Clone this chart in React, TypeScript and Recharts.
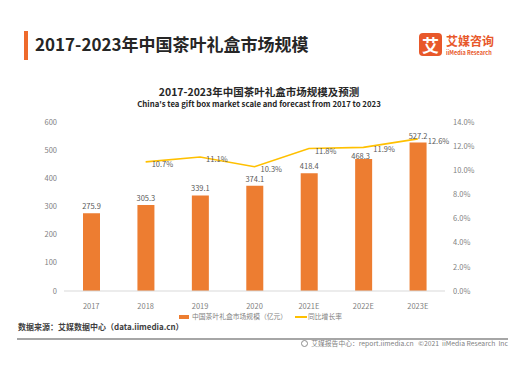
import React from "react";
import { ComposedChart, Bar, Line, XAxis, YAxis, LabelList } from "recharts";

const years = ["2017", "2018", "2019", "2020", "2021E", "2022E", "2023E"];
const marketSize = [275.9, 305.3, 339.1, 374.1, 418.4, 468.3, 527.2];
const growthRate = [null, 10.7, 11.1, 10.3, 11.8, 11.9, 12.6];
const leftTicks = [0, 100, 200, 300, 400, 500, 600];
const rightTicks = [0, 2, 4, 6, 8, 10, 12, 14];

const FONT = '"Noto Sans CJK SC", "Noto Sans", sans-serif';
const ORANGE = "#ED7D31";
const YELLOW = "#FFC000";

const data = years.map((y, i) => ({ year: y, size: marketSize[i], rate: growthRate[i] }));

// growth labels sit right of the point; the last two are pushed out a bit further
function RateLabel(props: any) {
  const { x, y, value, index } = props;
  if (value == null) return null;
  const dx = index >= 5 ? 10 : 6;
  return (
    <text x={x + dx} y={y + 3} fontSize={7.5} fill="#595959" fontFamily={FONT} dominantBaseline="middle">
      {value.toFixed(1)}%
    </text>
  );
}

// bar value labels above each bar; 2022E is nudged away from the rate label like in the source
function SizeLabel(props: any) {
  const { x, y, width, value, index } = props;
  const nudge = index === 5;
  return (
    <text
      x={x + width / 2 + (nudge ? -3 : 0)}
      y={y - 4 + (nudge ? 4 : 0)}
      fontSize={7.5}
      fill="#595959"
      fontFamily={FONT}
      textAnchor="middle"
    >
      {value}
    </text>
  );
}

function App() {
  return (
    <div style={{ position: "absolute", left: 0, top: 0, width: 530, height: 376, background: "#fff", fontFamily: FONT, overflow: "hidden" }}>
      <div style={{ position: "absolute", left: 24, top: 31, width: 4, height: 29, background: "#EE6A2C" }} />
      <div style={{ position: "absolute", left: 35, top: 32, fontSize: 17, fontWeight: 700, color: "#262626", lineHeight: "24px", whiteSpace: "nowrap" }}>
        2017-2023年中国茶叶礼盒市场规模
      </div>
      <div style={{ position: "absolute", left: 419, top: 33, width: 23, height: 23, borderRadius: 4, background: "#E8582A", color: "#fff", fontSize: 17, fontWeight: 700, lineHeight: "23px", textAlign: "center" }}>
        艾
      </div>
      <div style={{ position: "absolute", left: 446, top: 35, fontSize: 12, fontWeight: 700, color: "#E8582A", lineHeight: "12px", whiteSpace: "nowrap" }}>
        艾媒咨询
      </div>
      <div style={{ position: "absolute", left: 446, top: 49.5, fontSize: 5.5, fontWeight: 600, color: "#E8582A", lineHeight: "6px", whiteSpace: "nowrap" }}>
        iiMedia Research
      </div>

      <div style={{ position: "absolute", left: 0, width: 518, top: 85, textAlign: "center", fontSize: 10.5, fontWeight: 700, color: "#262626", lineHeight: "14px" }}>
        2017-2023年中国茶叶礼盒市场规模及预测
      </div>
      <div style={{ position: "absolute", left: 0, width: 518, top: 98, textAlign: "center", fontSize: 7.8, fontWeight: 600, color: "#262626", lineHeight: "11px" }}>
        China's tea gift box market scale and forecast from 2017 to 2023
      </div>

      <ComposedChart width={530} height={376} data={data} margin={{ top: 122, right: 35, bottom: 65, left: 14 }} style={{ position: "absolute", left: 0, top: 0 }}>
        <XAxis
          dataKey="year"
          height={20}
          tickLine={false}
          axisLine={{ stroke: "#d9d9d9" }}
          tick={{ fontSize: 7.5, fill: "#7f7f7f", fontFamily: FONT }}
          tickMargin={7}
          interval={0}
        />
        <YAxis
          yAxisId="left"
          width={50}
          domain={[0, 600]}
          ticks={leftTicks}
          axisLine={false}
          tickLine={false}
          tickSize={0}
          tickMargin={7}
          tick={{ fontSize: 7.5, fill: "#7f7f7f", fontFamily: FONT }}
        />
        <YAxis
          yAxisId="right"
          orientation="right"
          width={50}
          domain={[0, 14]}
          ticks={rightTicks}
          axisLine={false}
          tickLine={false}
          tickSize={0}
          tickMargin={8}
          tickFormatter={(v: number) => v.toFixed(1) + "%"}
          tick={{ fontSize: 7.5, fill: "#7f7f7f", fontFamily: FONT, textAnchor: "start" }}
        />
        <Bar yAxisId="left" dataKey="size" fill={ORANGE} barSize={17} isAnimationActive={false}>
          <LabelList dataKey="size" content={SizeLabel} />
        </Bar>
        <Line yAxisId="right" dataKey="rate" stroke={YELLOW} strokeWidth={1.6} dot={false} isAnimationActive={false}>
          <LabelList dataKey="rate" content={RateLabel} />
        </Line>
      </ComposedChart>

      <div style={{ position: "absolute", left: 179, top: 315, width: 10, height: 4, background: ORANGE }} />
      <div style={{ position: "absolute", left: 192, top: 311, fontSize: 6.8, color: "#7f7f7f", lineHeight: "11px", whiteSpace: "nowrap" }}>
        中国茶叶礼盒市场规模（亿元）
      </div>
      <div style={{ position: "absolute", left: 295, top: 316, width: 12, height: 1.6, background: YELLOW }} />
      <div style={{ position: "absolute", left: 308, top: 311, fontSize: 6.8, color: "#7f7f7f", lineHeight: "11px", whiteSpace: "nowrap" }}>
        同比增长率
      </div>

      <div style={{ position: "absolute", left: 18, top: 321, fontSize: 8, fontWeight: 600, color: "#404040", lineHeight: "12px", whiteSpace: "nowrap" }}>
        数据来源：艾媒数据中心（data.iimedia.cn）
      </div>
      <div style={{ position: "absolute", left: 17, top: 338, width: 491, height: 1.5, background: "#a6a6a6" }} />
      <div style={{ position: "absolute", right: 22, top: 338, fontSize: 6.8, color: "#7f7f7f", lineHeight: "11px", whiteSpace: "nowrap", display: "flex", alignItems: "center" }}>
        <span style={{ display: "inline-block", width: 7, height: 7, borderRadius: "50%", border: "1px solid #8c8c8c", boxSizing: "border-box", marginRight: 3 }} />
        艾媒报告中心：report.iimedia.cn&nbsp;&nbsp;&nbsp;©2021&nbsp;&nbsp;iiMedia Research&nbsp;&nbsp;Inc
      </div>
    </div>
  );
}

export default App;
